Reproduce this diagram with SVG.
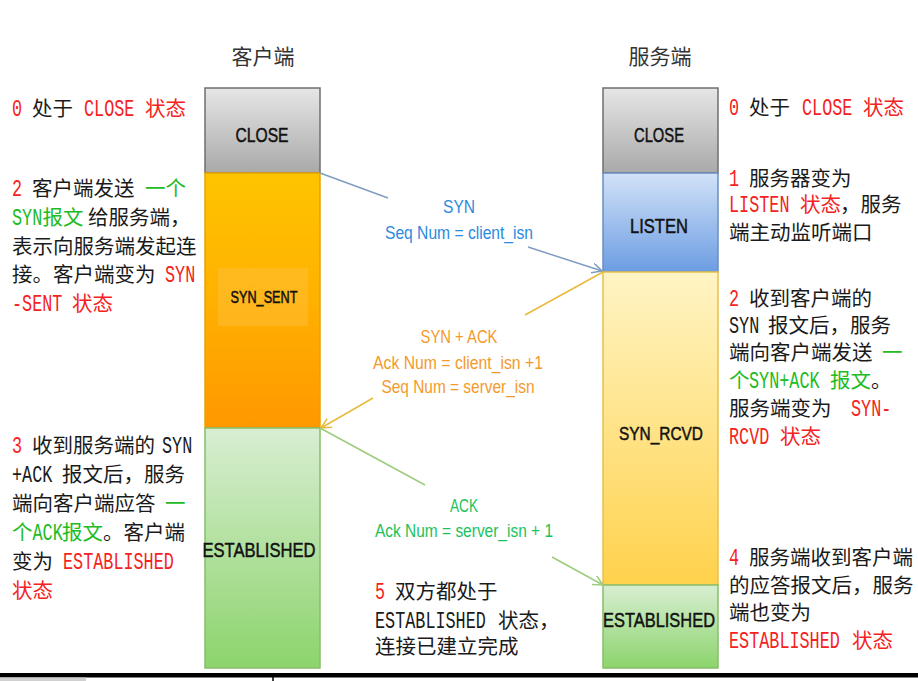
<svg xmlns="http://www.w3.org/2000/svg" width="918" height="681" viewBox="0 0 918 681">
<defs>
<linearGradient id="gClose" x1="0" y1="0" x2="0" y2="1"><stop offset="0" stop-color="#e6e6e6"/><stop offset="1" stop-color="#a9a9a9"/></linearGradient>
<linearGradient id="gSent" x1="0" y1="0" x2="0" y2="1"><stop offset="0" stop-color="#ffc400"/><stop offset="0.45" stop-color="#ffb300"/><stop offset="1" stop-color="#ff9800"/></linearGradient>
<linearGradient id="gListen" x1="0" y1="0" x2="0" y2="1"><stop offset="0" stop-color="#d2e2f8"/><stop offset="1" stop-color="#6c9de2"/></linearGradient>
<linearGradient id="gRcvd" x1="0" y1="0" x2="0" y2="1"><stop offset="0" stop-color="#fff4c4"/><stop offset="1" stop-color="#ffd24c"/></linearGradient>
<linearGradient id="gEst" x1="0" y1="0" x2="0" y2="1"><stop offset="0" stop-color="#d8eed2"/><stop offset="1" stop-color="#8cd46c"/></linearGradient>
<marker id="aBlue" markerWidth="12" markerHeight="12" refX="10" refY="5" orient="auto" markerUnits="userSpaceOnUse"><path d="M0,0 L10,5 L0,10" fill="none" stroke="#7f9dc0" stroke-width="1.5"/></marker>
<marker id="aGold" markerWidth="12" markerHeight="12" refX="10" refY="5" orient="auto" markerUnits="userSpaceOnUse"><path d="M0,0 L10,5 L0,10" fill="none" stroke="#e8b93a" stroke-width="1.5"/></marker>
<marker id="aGreen" markerWidth="12" markerHeight="12" refX="10" refY="5" orient="auto" markerUnits="userSpaceOnUse"><path d="M0,0 L10,5 L0,10" fill="none" stroke="#9ccc7c" stroke-width="1.5"/></marker>
</defs>
<style>
.t{font-family:"Noto Sans CJK SC",sans-serif;font-size:20.5px;fill:#1a1a1a}
.m{font-family:"Liberation Mono",monospace;font-size:24px;fill:#1a1a1a}
.r{fill:#f52222}
.g{fill:#22bb22}
.hd{font-family:"Noto Sans CJK SC",sans-serif;font-size:21px;fill:#333;text-anchor:middle}
.lb{font-family:"Liberation Sans",sans-serif;font-size:21px;fill:#111;stroke:#111;stroke-width:0.5;text-anchor:middle}
.at{font-family:"Liberation Sans",sans-serif;font-size:19px;text-anchor:middle}
.ln{fill:none;stroke-width:1.5}
</style>
<rect width="918" height="681" fill="#fff"/>

<text class="hd" x="263" y="64">客户端</text>
<text class="hd" x="660" y="64">服务端</text>

<g id="client-close"><rect x="205" y="88" width="115" height="85" fill="url(#gClose)" stroke="#6f6f6f" stroke-width="1.5"/><text class="lb" x="262" y="142" textLength="53" lengthAdjust="spacingAndGlyphs">CLOSE</text></g>
<g id="client-syn-sent"><rect x="205" y="173" width="115" height="255" fill="url(#gSent)" stroke="#e8a200" stroke-width="1.5"/><rect x="218" y="268" width="90" height="58" fill="#ffc040" opacity="0.45"/><text class="lb" x="264" y="303" style="font-size:16px" textLength="67" lengthAdjust="spacingAndGlyphs">SYN_SENT</text></g>
<g id="client-established"><rect x="205" y="428" width="115" height="240" fill="url(#gEst)" stroke="#86bf6a" stroke-width="1.5"/><text class="lb" x="259" y="557" textLength="113" lengthAdjust="spacingAndGlyphs">ESTABLISHED</text></g>

<g id="server-close"><rect x="603" y="88" width="115" height="85" fill="url(#gClose)" stroke="#6f6f6f" stroke-width="1.5"/><text class="lb" x="659" y="142" textLength="50" lengthAdjust="spacingAndGlyphs">CLOSE</text></g>
<g id="server-listen"><rect x="603" y="173" width="115" height="99" fill="url(#gListen)" stroke="#6a8fc0" stroke-width="1.5"/><text class="lb" x="659" y="233" textLength="58" lengthAdjust="spacingAndGlyphs">LISTEN</text></g>
<g id="server-syn-rcvd"><rect x="603" y="272" width="115" height="313" fill="url(#gRcvd)" stroke="#e6c04a" stroke-width="1.5"/><text class="lb" x="661" y="440" style="font-size:19px" textLength="84" lengthAdjust="spacingAndGlyphs">SYN_RCVD</text></g>
<g id="server-established"><rect x="603" y="585" width="115" height="83" fill="url(#gEst)" stroke="#86bf6a" stroke-width="1.5"/><text class="lb" x="659" y="627" textLength="112" lengthAdjust="spacingAndGlyphs">ESTABLISHED</text></g>

<g id="connectors">
<path class="ln" d="M320,173 L388,198" stroke="#7f9dc0"/>
<path class="ln" d="M528,247 L602,271" stroke="#7f9dc0" marker-end="url(#aBlue)"/>
<path class="ln" d="M603,272 L525,315" stroke="#e8b93a"/>
<path class="ln" d="M373,398 L321,428" stroke="#e8b93a" marker-end="url(#aGold)"/>
<path class="ln" d="M320,428 L425,485" stroke="#9ccc7c"/>
<path class="ln" d="M552,557 L603,585" stroke="#9ccc7c" marker-end="url(#aGreen)"/>
<text class="at" x="459" y="213" fill="#2a8ae0" textLength="32" lengthAdjust="spacingAndGlyphs">SYN</text>
<text class="at" x="459" y="239" fill="#2a8ae0" textLength="148" lengthAdjust="spacingAndGlyphs">Seq Num = client_isn</text>
<text class="at" x="459" y="343" fill="#f39a2b" textLength="77" lengthAdjust="spacingAndGlyphs">SYN + ACK</text>
<text class="at" x="458" y="369" fill="#f39a2b" textLength="170" lengthAdjust="spacingAndGlyphs">Ack Num =  client_isn +1</text>
<text class="at" x="458" y="393" fill="#f39a2b" textLength="153" lengthAdjust="spacingAndGlyphs">Seq Num = server_isn</text>
<text class="at" x="464" y="512" fill="#1cc25a" textLength="28" lengthAdjust="spacingAndGlyphs">ACK</text>
<text class="at" x="464" y="537" fill="#1cc25a" textLength="178" lengthAdjust="spacingAndGlyphs">Ack Num = server_isn + 1</text>
</g>

<g id="note-left-0">
<text class="m r" transform="translate(12,115.5) scale(0.7,1)">0</text>
<text class="t" x="32" y="115.5">处于</text>
<text class="m r" transform="translate(84,115.5) scale(0.7,1)">CLOSE</text>
<text class="t r" x="145" y="115.5">状态</text>
</g>
<g id="note-left-2">
<text class="m r" transform="translate(12,196) scale(0.7,1)">2</text>
<text class="t" y="196"><tspan x="32">客户端发送</tspan><tspan class="g" x="145">一个</tspan></text>
<text class="m g" transform="translate(12,224.5) scale(0.7,1)">SYN</text>
<text class="t" y="224.5"><tspan class="g" x="42.5">报文</tspan><tspan x="88">给服务端，</tspan></text>
<text class="t" x="12" y="253.5">表示向服务端发起连</text>
<text class="t" x="12" y="282">接。客户端变为</text>
<text class="m r" transform="translate(165,282) scale(0.7,1)">SYN</text>
<text class="m r" transform="translate(12,310.5) scale(0.7,1)">-SENT</text>
<text class="t r" x="72" y="310.5">状态</text>
</g>
<g id="note-left-3">
<text class="m r" transform="translate(12,453) scale(0.7,1)">3</text>
<text class="t" x="32" y="453">收到服务端的</text>
<text class="m" transform="translate(162,453) scale(0.7,1)">SYN</text>
<text class="m" transform="translate(12,482) scale(0.7,1)">+ACK</text>
<text class="t" x="62" y="482">报文后，服务</text>
<text class="t" y="511"><tspan x="12">端向客户端应答</tspan><tspan class="g" x="165">一</tspan></text>
<text class="t g" x="12" y="540">个</text>
<text class="m g" transform="translate(32.5,540) scale(0.7,1)">ACK</text>
<text class="t" y="540"><tspan class="g" x="62">报文</tspan><tspan x="103">。客户端</tspan></text>
<text class="t" x="12" y="569">变为</text>
<text class="m r" transform="translate(63,569) scale(0.7,1)">ESTABLISHED</text>
<text class="t r" x="12" y="598">状态</text>
</g>

<g id="note-right-0">
<text class="m r" transform="translate(729,114.5) scale(0.7,1)">0</text>
<text class="t" x="749" y="114.5">处于</text>
<text class="m r" transform="translate(802,114.5) scale(0.7,1)">CLOSE</text>
<text class="t r" x="863" y="114.5">状态</text>
</g>
<g id="note-right-1">
<text class="m r" transform="translate(729,185.5) scale(0.7,1)">1</text>
<text class="t" x="749" y="185.5">服务器变为</text>
<text class="m r" transform="translate(729,211.5) scale(0.7,1)">LISTEN</text>
<text class="t" y="211.5"><tspan class="r" x="800">状态</tspan><tspan x="840">，服务</tspan></text>
<text class="t" x="729" y="239.5">端主动监听端口</text>
</g>
<g id="note-right-2">
<text class="m r" transform="translate(729,305.5) scale(0.7,1)">2</text>
<text class="t" x="749" y="305.5">收到客户端的</text>
<text class="m" transform="translate(729,332.5) scale(0.7,1)">SYN</text>
<text class="t" x="768" y="332.5">报文后，服务</text>
<text class="t" y="359.5"><tspan x="729">端向客户端发送</tspan><tspan class="g" x="882">一</tspan></text>
<text class="t g" x="729" y="387.5">个</text>
<text class="m g" transform="translate(749,387.5) scale(0.7,1)">SYN+ACK</text>
<text class="t" y="387.5"><tspan class="g" x="830">报文</tspan><tspan x="871">。</tspan></text>
<text class="t" x="729" y="415.5">服务端变为</text>
<text class="m r" transform="translate(851,415.5) scale(0.7,1)">SYN-</text>
<text class="m r" transform="translate(729,443.5) scale(0.7,1)">RCVD</text>
<text class="t r" x="780" y="443.5">状态</text>
</g>
<g id="note-right-4">
<text class="m r" transform="translate(729,564.5) scale(0.7,1)">4</text>
<text class="t" x="749" y="564.5">服务端收到客户端</text>
<text class="t" x="729" y="592.5">的应答报文后，服务</text>
<text class="t" x="729" y="619.5">端也变为</text>
<text class="m r" transform="translate(729,647.5) scale(0.7,1)">ESTABLISHED</text>
<text class="t r" x="852" y="647.5">状态</text>
</g>
<g id="note-middle-5">
<text class="m r" transform="translate(375,598.5) scale(0.7,1)">5</text>
<text class="t" x="395" y="598.5">双方都处于</text>
<text class="m" transform="translate(375,627.5) scale(0.7,1)">ESTABLISHED</text>
<text class="t" x="498" y="627.5">状态，</text>
<text class="t" x="375" y="653.5">连接已建立完成</text>
</g>

<rect x="0" y="673" width="918" height="4.5" fill="#000"/>
<rect x="0" y="677.5" width="86" height="3.5" fill="#d0d0d0"/>
<line x1="273" y1="677" x2="273" y2="681" stroke="#000" stroke-width="1.5"/>
</svg>
